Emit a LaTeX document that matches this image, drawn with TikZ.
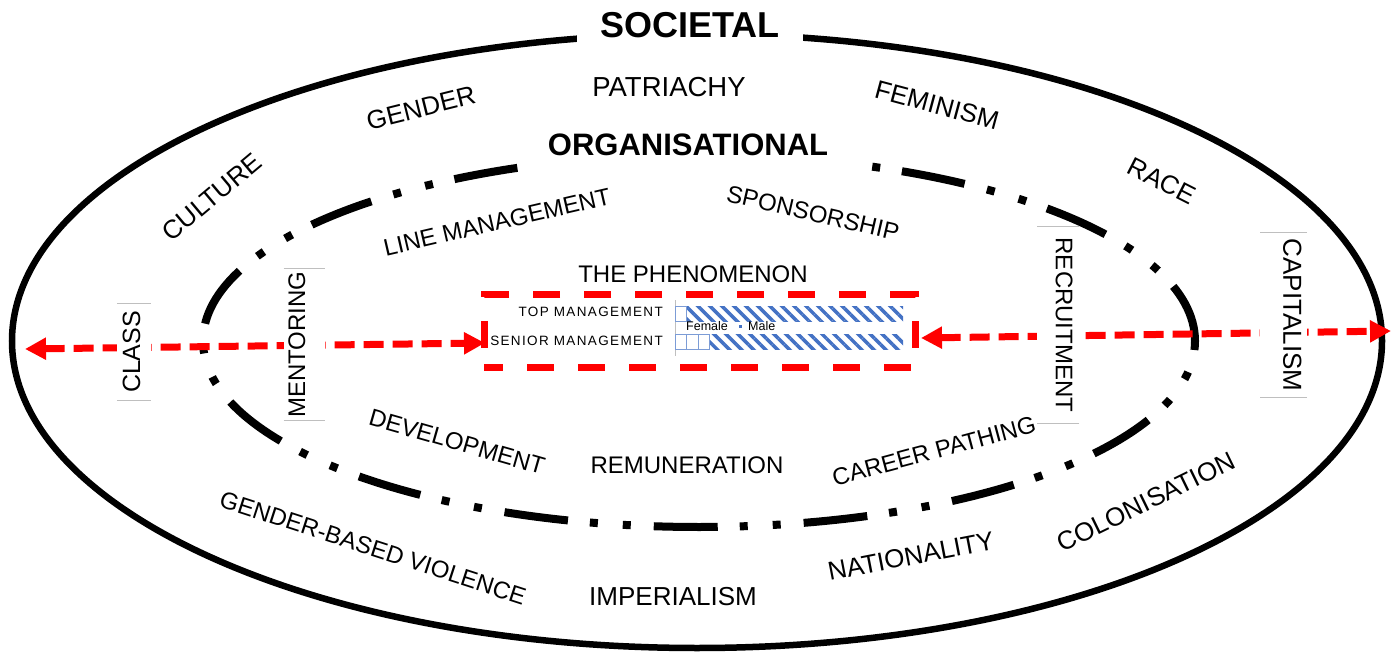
\documentclass[tikz,border=0pt]{standalone}
\usepackage{fontspec}
\setmainfont{Liberation Sans}
\usepackage{xcolor}
\usepackage{tikz}
\usetikzlibrary{positioning, shapes, arrows.meta, calc, backgrounds, patterns, patterns.meta}

\definecolor{barblue}{HTML}{4472C4}
\definecolor{edgegray}{HTML}{BFBFBF}

\begin{document}
\begin{tikzpicture}[x=1pt, y=1pt,
    heading/.style={font=\fontsize{#1}{#1}\selectfont\bfseries, fill=white},
    outerword/.style={font=\fontsize{26}{30}\selectfont},
    innerword/.style={font=\fontsize{24}{28}\selectfont},
    upword/.style={rotate=90, fill=white},
    downword/.style={rotate=-90, fill=white},
    ringdash/.style={line width=8pt, dash pattern=on 64pt off 22pt on 8pt off 25pt on 8pt off 23pt, dash phase=4pt},
    redbox/.style={draw=red, line width=7pt, outer sep=0pt, inner sep=0pt, dash pattern=on 27pt off 24pt, dash phase=8pt},
    redarrow/.style={draw=red, line width=7pt, dash pattern=on 20pt off 9pt, >={Triangle[length=21pt, width=21pt]}, <->},
    malebar/.style={pattern={Lines[angle=-45, distance=8.5pt, line width=3.5pt]}, pattern color=barblue},
    femaleline/.style={draw=barblue!70, line width=1pt},
    rowlabel/.style={font=\fontsize{13.5}{14}\selectfont\addfontfeature{LetterSpace=10}, anchor=east, inner sep=0pt},
    legendword/.style={font=\fontsize{12.5}{13}\selectfont, anchor=west, inner sep=0pt}]
  \useasboundingbox (0,0) rectangle (1397,654);

  % societal and organisational rings
  \draw[line width=6.5pt] (697,313) ellipse [x radius=685, y radius=307];
  \draw[ringdash] (699,313) ellipse [x radius=496, y radius=186];

  % the phenomenon box with its little bar chart
  \node[redbox, minimum width=431pt, minimum height=73pt] (phenomenon) at (699.5,322.5) {};
  \node[innerword] (phenlabel) at (693,380) {THE PHENOMENON};

  \draw[edgegray, line width=1pt] (675,298) -- (675,354);
  \path[malebar] (686,332) rectangle (903,347);
  \draw[femaleline] (675,332) rectangle (686,347);
  \path[malebar] (709,304) rectangle (903,319);
  \draw[femaleline] (675,304) rectangle (709,319) (686,304) -- (686,319) (698,304) -- (698,319);
  \node[rowlabel] (topmgmt) at (663,342) {TOP MANAGEMENT};
  \node[rowlabel] (seniormgmt) at (663,313) {SENIOR MANAGEMENT};
  \node[legendword] (female) at (686,328) {Female};
  \fill[barblue] (739,326) rectangle (742,329);
  \node[legendword] (male) at (748,328) {Male};

  % arrows out of the box
  \coordinate (westend) at (25,305);
  \coordinate (eastend) at (1391,323);
  \draw[redarrow] (westend) -- ([xshift=1pt, yshift=-11.5pt]phenomenon.west);
  \draw[redarrow] ([xshift=6pt, yshift=-6.5pt]phenomenon.east) -- (eastend);

  % ring titles
  \node[heading=36, inner xsep=23pt, inner ysep=8pt] (societal) at (690,629) {SOCIETAL};
  \node[heading=31, inner xsep=22pt, inner ysep=13pt] (organisational) at (688,509) {ORGANISATIONAL};

  % societal words
  \node[outerword, font=\fontsize{27.5}{30}\selectfont] (patriachy) at (669,567) {PATRIACHY};
  \node[outerword, rotate=14] (gender) at (421,546) {GENDER};
  \node[outerword, rotate=-15] (feminism) at (937,549) {FEMINISM};
  \node[outerword, rotate=40] (culture) at (212,457) {CULTURE};
  \node[outerword, rotate=-27] (race) at (1162,473) {RACE};
  \node[innerword, rotate=-18] (violence) at (373,106) {GENDER-BASED VIOLENCE};
  \node[outerword] (imperialism) at (673,57) {IMPERIALISM};
  \node[outerword, rotate=11] (nationality) at (911,98) {NATIONALITY};
  \node[outerword, rotate=26] (colonisation) at (1146,152) {COLONISATION};

  % organisational words
  \node[innerword, rotate=13] (linemgmt) at (497,432) {LINE MANAGEMENT};
  \node[innerword, rotate=-13] (sponsorship) at (813,441) {SPONSORSHIP};
  \node[innerword, rotate=-16] (development) at (457,212) {DEVELOPMENT};
  \node[innerword] (remuneration) at (687,189) {REMUNERATION};
  \node[innerword, rotate=15] (careerpath) at (934,203) {CAREER PATHING};

  % upright words in their text boxes
  \node[upword, font=\fontsize{25}{30}\selectfont, text height=18pt, text depth=6pt, inner xsep=7pt, inner ysep=5pt] (class) at (134,302) {CLASS};
  \node[upword, innerword, text height=17.2pt, text depth=16pt, inner xsep=3pt, inner ysep=4pt] (mentoring) at (304.4,309.5) {MENTORING};
  \node[downword, innerword, text height=17.2pt, text depth=13pt, inner xsep=10.7pt, inner ysep=6pt] (recruitment) at (1058,329) {RECRUITMENT};
  \node[downword, outerword, text height=18.6pt, text depth=18.4pt, inner xsep=5.7pt, inner ysep=5pt] (capitalism) at (1283.5,339) {CAPITALISM};
  \foreach \w in {class, mentoring, recruitment, capitalism}
    \draw[edgegray, line width=1pt] (\w.north west) -- (\w.south west) (\w.north east) -- (\w.south east);
\end{tikzpicture}
\end{document}
